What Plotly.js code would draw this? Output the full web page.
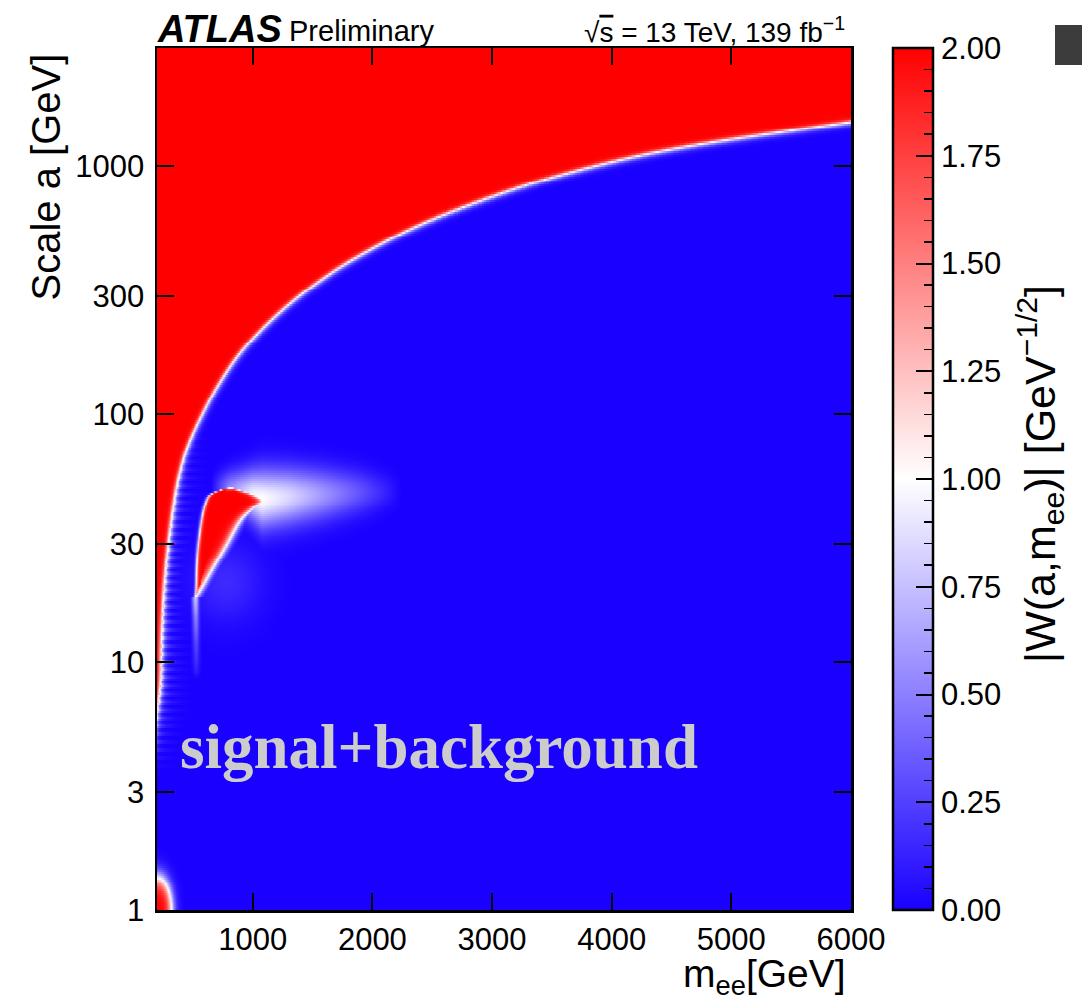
<!DOCTYPE html>
<html><head><meta charset="utf-8">
<script src="https://cdn.plot.ly/plotly-3.0.1.min.js"></script>
<style>html,body{margin:0;padding:0;background:#fff}</style>
</head><body><div id="chart" style="width:1082px;height:1001px"></div>
<script>
// ---------------- values ----------------
const xTickValues = [1000, 2000, 3000, 4000, 5000, 6000];
const yTickValues = [1, 3, 10, 30, 100, 300, 1000];
const yTickLabels = ['1', '3', '10', '30', '100', '300', '1000'];
const colorTickValues = [0, 0.25, 0.5, 0.75, 1, 1.25, 1.5, 1.75, 2];
const colorTickLabels = ['0.00', '0.25', '0.50', '0.75', '1.00', '1.25', '1.50', '1.75', '2.00'];

// |W| = 1 contour separating the red (upper-left) and blue regions
const boundaryMee   = [150, 200, 228, 233, 244, 261, 289, 325, 372, 451, 570, 715, 908, 1176, 1481, 1863, 2436, 3200, 3964, 4728, 6000];
const boundaryScale = [4.5, 6.5, 8.4, 11.5, 15.7, 21.3, 29.1, 39.6, 53.9, 73.4, 98, 132, 180, 245, 324, 428, 592, 814, 1032, 1224, 1510];

// red signal island: rows (scale) with left / right m_ee edges of |W| = 1
const islandScale = [18.3, 20.0, 24.1, 29.1, 37.2, 42.0, 44.5, 46.5, 48.0, 49.5, 50.4];
const islandLeft  = [520, 527, 532, 543, 572, 595, 612, 630, 665, 730, 800];
const islandRight = [524, 576, 670, 771, 896, 1010, 1077, 1035, 975, 890, 830];

// white halo spreading to the right of the island
const haloMee    = [650, 800, 1000, 1077, 1300, 1600, 1900, 2250];
const haloScale  = [51, 50, 47, 45.5, 46.5, 47.5, 48.5, 49];
const haloPeak   = [0.0, 0.5, 0.95, 1.0, 0.85, 0.58, 0.32, 0.0];
const haloSpread = [0.05, 0.07, 0.1, 0.115, 0.11, 0.1, 0.085, 0.06];   // decades of scale

// faint light streak under the island
const streakScale = [9, 12, 15, 18.5];
const streakMee   = [528, 526, 524, 521];
const streakPeak  = [0.1, 0.28, 0.5, 0.8];

// diffuse lighter patch below-right of the island
const glowMee = 780, glowScale = 21, glowPeak = 0.16, glowSpreadMee = 300, glowSpreadDecades = 0.16;

// ripples along the low-scale edge of the red region
const rippleScale = [3, 6, 12, 25, 50, 90];
const rippleAmp   = [0.2, 0.4, 0.45, 0.4, 0.3, 0.0];

// small spot at the lower-left corner
const cornerMee = 200, cornerScale = 1, cornerReachMee = 120, cornerReachDecades = 0.13;

// ---------------- build the map ----------------
const MMIN = 200, MMAX = 6000, AMAX = 3000;
const LOGMAX = Math.log10(AMAX);
const PW = 694, PH = 862;                       // plot size, for isotropic distances
const U = m => (m - MMIN) / (MMAX - MMIN) * PW;
const V = a => Math.log10(a) / LOGMAX * PH;

function interp(xs, ys, x) {
  const n = xs.length;
  if (x <= xs[0]) return ys[0];
  if (x >= xs[n - 1]) return ys[n - 1];
  let i = 1; while (xs[i] < x) i++;
  const t = (x - xs[i - 1]) / (xs[i] - xs[i - 1]);
  return ys[i - 1] + t * (ys[i] - ys[i - 1]);
}
function segDist(px, py, ax, ay, bx, by) {
  const dx = bx - ax, dy = by - ay;
  let t = ((px - ax) * dx + (py - ay) * dy) / (dx * dx + dy * dy);
  t = Math.max(0, Math.min(1, t));
  return Math.hypot(px - ax - t * dx, py - ay - t * dy);
}
// smooth the read contour (Catmull-Rom) in plot coordinates
function smoothCurve(px, py, sub) {
  const n = px.length, ox = [], oy = [];
  for (let i = 0; i < n - 1; i++) {
    const p0x = px[Math.max(0, i - 1)], p0y = py[Math.max(0, i - 1)];
    const p1x = px[i], p1y = py[i], p2x = px[i + 1], p2y = py[i + 1];
    const p3x = px[Math.min(n - 1, i + 2)], p3y = py[Math.min(n - 1, i + 2)];
    for (let s = 0; s < sub; s++) {
      const t = s / sub, t2 = t * t, t3 = t2 * t;
      ox.push(0.5 * (2 * p1x + (-p0x + p2x) * t + (2 * p0x - 5 * p1x + 4 * p2x - p3x) * t2 + (-p0x + 3 * p1x - 3 * p2x + p3x) * t3));
      oy.push(0.5 * (2 * p1y + (-p0y + p2y) * t + (2 * p0y - 5 * p1y + 4 * p2y - p3y) * t2 + (-p0y + 3 * p1y - 3 * p2y + p3y) * t3));
    }
  }
  ox.push(px[n - 1]); oy.push(py[n - 1]);
  return [ox, oy];
}
const [bu, bv] = smoothCurve(boundaryMee.map(U), boundaryScale.map(V), 8);
const [iv, iuL] = smoothCurve(islandScale.map(V), islandLeft.map(U), 6);
const [iv2, iuR] = smoothCurve(islandScale.map(V), islandRight.map(U), 6);
const rv = rippleScale.map(V);
const sv = streakScale.map(V), su = streakMee.map(U);
const lsv = V(streakScale[0]), hsv = V(streakScale[streakScale.length - 1]);

// island value: sharp edge on the left, softer fringe on the right / top
function islandValue(u, v) {
  const n = iv.length;
  if (v < iv[0]) return 1 + Math.tanh(-Math.hypot(iv[0] - v, Math.max(0, iuL[0] - u, u - iuR[0])) / 2.2);
  if (v > iv[n - 1]) return 1 + Math.tanh(-Math.hypot(v - iv[n - 1], Math.max(0, iuL[n - 1] - u, u - iuR[n - 1])) / 4);
  const L = interp(iv, iuL, v), R = interp(iv2, iuR, v);
  const dl = u - L, dr = R - u;
  const dt = (iv[n - 1] - v) * 2.5;
  if (dt < Math.min(dl, dr)) return 1 + Math.tanh(dt / 4);
  return dl < dr ? 1 + Math.tanh(dl / 2.0) : 1 + Math.tanh(dr / 5.5);
}

const xs = [];
for (let m = MMIN; m <= 2500; m += 5) xs.push(m);
for (let m = 2520; m <= MMAX; m += 20) xs.push(m);
const NY = 440;
const ys = [];
for (let j = 0; j < NY; j++) ys.push(Math.pow(10, j / (NY - 1) * LOGMAX));

const z = [];
for (let j = 0; j < NY; j++) {
  const a = ys[j], v = V(a);
  const row = new Array(xs.length);
  for (let i = 0; i < xs.length; i++) {
    const m = xs[i], u = U(m);
    let d = Infinity;
    for (let k = 1; k < bu.length; k++) {
      if (Math.abs(bu[k] - u) > d + 60 && Math.abs(bu[k - 1] - u) > d + 60) continue;
      d = Math.min(d, segDist(u, v, bu[k - 1], bv[k - 1], bu[k], bv[k]));
    }
    const red = v > interp(bu, bv, u);
    let val;
    if (red) val = 1 + Math.tanh(d / 2.5);
    else {
      val = 1 - Math.tanh(d / 3.8);
      const amp = interp(rv, rippleAmp, v);
      if (amp > 0) val += amp * (0.5 + 0.5 * Math.cos(2 * Math.PI * v / 8)) * Math.exp(-d / 9);
    }
    val = Math.max(val, islandValue(u, v));
    if (m >= haloMee[0] && m <= haloMee[haloMee.length - 1]) {
      const vc = V(interp(haloMee, haloScale, m));
      const sp = interp(haloMee, haloSpread, m) / LOGMAX * PH;
      const pk = interp(haloMee, haloPeak, m);
      val = Math.max(val, pk * Math.exp(-Math.pow((v - vc) / sp, 2)));
    }
    if (v >= lsv - 6 && v <= hsv) {
      const uc = interp(sv, su, v), pk = interp(sv, streakPeak, v) * (v < lsv ? Math.exp(-(lsv - v) / 3) : 1);
      val = Math.max(val, pk * Math.exp(-Math.pow((u - uc) / 3.5, 2)));
    }
    const gu = (m - glowMee) / glowSpreadMee, gv = (Math.log10(a) - Math.log10(glowScale)) / glowSpreadDecades;
    val = Math.max(val, glowPeak * Math.exp(-(gu * gu + gv * gv)));
    const r = Math.hypot((m - cornerMee) / cornerReachMee, (Math.log10(a) - Math.log10(cornerScale)) / cornerReachDecades);
    val = Math.max(val, 1 + Math.tanh((1 - r) / 0.35));
    row[i] = Math.min(2.05, Math.max(0, val));
  }
  z.push(row);
}

// ---------------- figure ----------------
const colorscale = [[0, 'rgb(25,0,255)'], [0.5, 'rgb(255,255,255)'], [1, 'rgb(255,0,0)']];
const minorTicks = [];
for (let k = 0; k <= 40; k++) minorTicks.push(k * 0.05);

const cbBase = {
  x: (893 - 157) / 694, xanchor: 'left', xpad: 0,
  y: 0.5, yanchor: 'middle', ypad: 0, len: 1, lenmode: 'fraction',
  thickness: 40, thicknessmode: 'pixels', ticks: 'inside', tickcolor: '#000'
};
const traceMain = {
  type: 'heatmap', x: xs, y: ys, z: z, zmin: 0, zmax: 2, zsmooth: false,
  colorscale: colorscale, hoverinfo: 'skip', showscale: true,
  colorbar: Object.assign({}, cbBase, {
    outlinewidth: 0, tickmode: 'array', tickvals: minorTicks, ticklen: 9, tickwidth: 1.5,
    showticklabels: false
  })
};
const traceScale = {
  type: 'heatmap', x: xs, y: ys, z: z, zmin: 0, zmax: 2, zsmooth: false,
  colorscale: [[0, 'rgba(0,0,0,0)'], [1, 'rgba(0,0,0,0)']], hoverinfo: 'skip', showscale: true,
  colorbar: Object.assign({}, cbBase, {
    outlinewidth: 2.5, outlinecolor: '#000', tickmode: 'array', tickvals: colorTickValues,
    ticktext: colorTickLabels, ticklen: 18, tickwidth: 2,
    tickfont: { size: 31, family: '"Liberation Sans", Arial, sans-serif', color: '#000' }
  })
};

const axisStyle = {
  ticks: 'inside', ticklen: 17, tickwidth: 2, tickcolor: '#000',
  showline: true, linewidth: 2.5, linecolor: '#000', mirror: 'ticks',
  showgrid: false, zeroline: false, tickfont: { size: 31, color: '#000' }
};
const F = '"Liberation Sans", Arial, sans-serif';
const layout = {
  width: 1082, height: 1001,
  margin: { l: 157, r: 231, t: 48, b: 91, pad: 0 },
  paper_bgcolor: '#fff', plot_bgcolor: '#fff',
  font: { family: F, color: '#000' },
  showlegend: false,
  xaxis: Object.assign({}, axisStyle, {
    range: [MMIN, MMAX], tickmode: 'array', tickvals: xTickValues, ticktext: xTickValues.map(String)
  }),
  yaxis: Object.assign({}, axisStyle, {
    type: 'log', range: [0, LOGMAX], tickmode: 'array', tickvals: yTickValues, ticktext: yTickLabels,
    ticklabelstandoff: 4
  }),
  annotations: [
    { xref: 'paper', yref: 'paper', x: -0.003, y: (910 - 29) / 862, xanchor: 'left', yanchor: 'middle',
      text: '<b><i>ATLAS</i></b>', showarrow: false, font: { size: 38, family: F, color: '#000' } },
    { xref: 'paper', yref: 'paper', x: (287 - 157) / 694, y: (910 - 31) / 862, xanchor: 'left', yanchor: 'middle',
      text: 'Preliminary', showarrow: false, font: { size: 29, family: F, color: '#000' } },
    { xref: 'paper', yref: 'paper', x: (847 - 157) / 694, y: (910 - 30) / 862, xanchor: 'right', yanchor: 'middle',
      text: '√<span style="text-decoration:overline">s</span> = 13 TeV, 139 fb<sup>−1</sup>', showarrow: false,
      font: { size: 28, family: F, color: '#000' } },
    { xref: 'paper', yref: 'paper', x: (45 - 157) / 694, y: (910 - 52) / 862, xanchor: 'center', yanchor: 'top',
      textangle: -90, text: 'Scale a [GeV]', showarrow: false, font: { size: 40, family: F, color: '#000' } },
    { xref: 'paper', yref: 'paper', x: (848 - 157) / 694, y: (910 - 976) / 862, xanchor: 'right', yanchor: 'middle',
      text: 'm<sub>ee</sub>[GeV]', showarrow: false, font: { size: 39, family: F, color: '#000' } },
    { xref: 'paper', yref: 'paper', x: (1040 - 157) / 694, y: (910 - 474) / 862, xanchor: 'center', yanchor: 'middle',
      textangle: -90, text: '|W(a,m<sub>ee</sub>)| [GeV<sup>−1/2</sup>]', showarrow: false,
      font: { size: 43, family: F, color: '#000' } },
    { xref: 'paper', yref: 'paper', x: (178 - 157) / 694, y: (910 - 747) / 862, xanchor: 'left', yanchor: 'middle',
      text: '<b>signal+background</b>', showarrow: false,
      font: { size: 63, family: '"Liberation Serif", "DejaVu Serif", serif', color: '#cccccc' } }
  ],
  shapes: [
    { type: 'rect', xref: 'paper', yref: 'paper', x0: (1055 - 157) / 694, x1: (1085 - 157) / 694,
      y0: (910 - 65) / 862, y1: (910 - 25) / 862, fillcolor: '#3c3c3c', line: { width: 0 } }
  ]
};
Plotly.newPlot('chart', [traceMain, traceScale], layout, { displayModeBar: false, staticPlot: true });
</script>
</body></html>
